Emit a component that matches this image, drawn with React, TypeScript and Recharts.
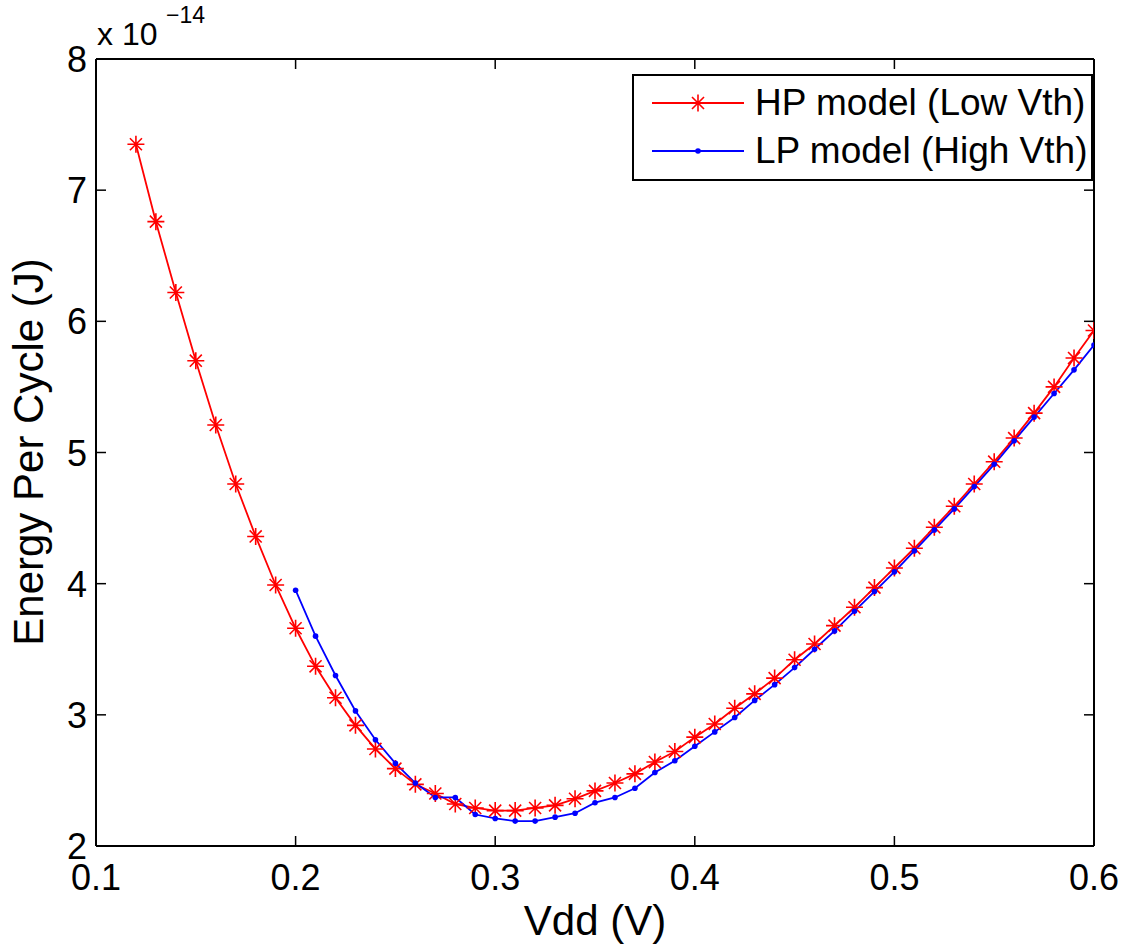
import React from "react";
import { LineChart, Line, XAxis, YAxis } from "recharts";

const hpVdd = [
  0.12, 0.13, 0.14, 0.15, 0.16, 0.17, 0.18, 0.19, 0.2, 0.21, 0.22, 0.23, 0.24, 0.25, 0.26, 0.27, 0.28,
  0.29, 0.3, 0.31, 0.32, 0.33, 0.34, 0.35, 0.36, 0.37, 0.38, 0.39, 0.4, 0.41, 0.42, 0.43, 0.44, 0.45,
  0.46, 0.47, 0.48, 0.49, 0.5, 0.51, 0.52, 0.53, 0.54, 0.55, 0.56, 0.57, 0.58, 0.59, 0.6,
];
// energy per cycle, units of 1e-14 J
const hpEnergy = [
  7.35, 6.76, 6.22, 5.7, 5.21, 4.76, 4.36, 3.99, 3.66, 3.37, 3.13, 2.92, 2.74, 2.59, 2.47, 2.4, 2.32,
  2.29, 2.27, 2.27, 2.29, 2.31, 2.36, 2.42, 2.48, 2.55, 2.64, 2.72, 2.83, 2.93, 3.05, 3.16, 3.28, 3.42,
  3.54, 3.68, 3.82, 3.97, 4.12, 4.27, 4.43, 4.59, 4.76, 4.93, 5.11, 5.3, 5.5, 5.72, 5.93,
];

const lpVdd = [
  0.2, 0.21, 0.22, 0.23, 0.24, 0.25, 0.26, 0.27, 0.28, 0.29, 0.3, 0.31, 0.32, 0.33, 0.34, 0.35, 0.36,
  0.37, 0.38, 0.39, 0.4, 0.41, 0.42, 0.43, 0.44, 0.45, 0.46, 0.47, 0.48, 0.49, 0.5, 0.51, 0.52, 0.53,
  0.54, 0.55, 0.56, 0.57, 0.58, 0.59, 0.6,
];
const lpEnergy = [
  3.95, 3.6, 3.3, 3.03, 2.81, 2.63, 2.48, 2.37, 2.37, 2.24, 2.21, 2.19, 2.19, 2.22, 2.25, 2.33, 2.37,
  2.44, 2.56, 2.65, 2.76, 2.87, 2.98, 3.11, 3.23, 3.36, 3.5, 3.64, 3.79, 3.94, 4.09, 4.25, 4.41, 4.57,
  4.74, 4.91, 5.09, 5.27, 5.45, 5.63, 5.82,
];

const xTicks = [0.1, 0.2, 0.3, 0.4, 0.5, 0.6];
const yTicks = [2, 3, 4, 5, 6, 7, 8];

const FONT = '"Liberation Sans", Arial, Helvetica, sans-serif';
const TICK_LEN = 10;
const TICK_FONT = 36;

const hpData = hpVdd.map((v, i) => ({ v, e: hpEnergy[i] }));
const lpData = lpVdd.map((v, i) => ({ v, e: lpEnergy[i] }));

function starPath(cx: number, cy: number, r: number) {
  const d = r * 0.7071;
  return `M${cx - r},${cy}L${cx + r},${cy}M${cx},${cy - r}L${cx},${cy + r}` +
    `M${cx - d},${cy - d}L${cx + d},${cy + d}M${cx - d},${cy + d}L${cx + d},${cy - d}`;
}

function renderStar(props: any) {
  const { cx, cy, index } = props;
  if (cx == null || cy == null) return <g key={`s-${index}`} />;
  return <path key={`s-${index}`} d={starPath(cx, cy, 8.5)} stroke="#ff0000" strokeWidth={1.6} fill="none" />;
}

function BottomTick(props: any) {
  const { x, y, payload } = props;
  return (
    <g>
      <path d={`M${x},${y}V${y - TICK_LEN}`} stroke="#000" strokeWidth={1.5} />
      <text x={x} y={y + 44} textAnchor="middle" fontSize={TICK_FONT} fontFamily={FONT} fill="#000">
        {Number(payload.value).toFixed(1)}
      </text>
    </g>
  );
}

function TopTick(props: any) {
  const { x, y } = props;
  return <path d={`M${x},${y}V${y + TICK_LEN}`} stroke="#000" strokeWidth={1.5} />;
}

function LeftTick(props: any) {
  const { x, y, payload } = props;
  return (
    <g>
      <path d={`M${x},${y}H${x + TICK_LEN}`} stroke="#000" strokeWidth={1.5} />
      <text x={x - 9} y={y + 13} textAnchor="end" fontSize={TICK_FONT} fontFamily={FONT} fill="#000">
        {payload.value}
      </text>
    </g>
  );
}

function RightTick(props: any) {
  const { x, y } = props;
  return <path d={`M${x},${y}H${x - TICK_LEN}`} stroke="#000" strokeWidth={1.5} />;
}

export default function App() {
  return (
    <div style={{ position: "absolute", left: 0, top: 0, width: 1128, height: 945, background: "#fff" }}>
      <LineChart width={1128} height={945} margin={{ top: 58, right: 33, bottom: 39, left: 0 }}>
        <XAxis
          xAxisId="bottom"
          type="number"
          dataKey="v"
          domain={[0.1, 0.6]}
          ticks={xTicks}
          allowDataOverflow
          height={60}
          tickSize={0}
          tickMargin={0}
          tickLine={false}
          axisLine={{ stroke: "#000", strokeWidth: 2 }}
          tick={BottomTick}
          interval={0}
        />
        <XAxis
          xAxisId="top"
          orientation="top"
          type="number"
          dataKey="v"
          domain={[0.1, 0.6]}
          ticks={xTicks}
          allowDataOverflow
          height={1}
          tickSize={0}
          tickMargin={0}
          tickLine={false}
          axisLine={{ stroke: "#000", strokeWidth: 2 }}
          tick={TopTick}
          interval={0}
        />
        <YAxis
          yAxisId="left"
          type="number"
          domain={[2, 8]}
          ticks={yTicks}
          allowDataOverflow
          width={96}
          tickSize={0}
          tickMargin={0}
          tickLine={false}
          axisLine={{ stroke: "#000", strokeWidth: 2 }}
          tick={LeftTick}
          interval={0}
        />
        <YAxis
          yAxisId="right"
          orientation="right"
          type="number"
          domain={[2, 8]}
          ticks={yTicks}
          allowDataOverflow
          width={1}
          tickSize={0}
          tickMargin={0}
          tickLine={false}
          axisLine={{ stroke: "#000", strokeWidth: 2 }}
          tick={RightTick}
          interval={0}
        />
        <Line
          xAxisId="bottom"
          yAxisId="left"
          data={hpData}
          dataKey="e"
          type="linear"
          stroke="#ff0000"
          strokeWidth={1.8}
          dot={renderStar}
          activeDot={false}
          isAnimationActive={false}
        />
        <Line
          xAxisId="top"
          yAxisId="right"
          data={lpData}
          dataKey="e"
          type="linear"
          stroke="#0000ff"
          strokeWidth={1.8}
          dot={{ r: 2.8, fill: "#0000ff", stroke: "#0000ff", strokeWidth: 0 }}
          activeDot={false}
          isAnimationActive={false}
        />
      </LineChart>

      <svg
        width={1128}
        height={945}
        style={{ position: "absolute", left: 0, top: 0, pointerEvents: "none" }}
        fontFamily={FONT}
      >
        <text x={97} y={45} fontSize={32} fill="#000">x 10</text>
        <text x={166} y={23} fontSize={23} fill="#000">−14</text>
        <text x={43} y={452} fontSize={42} fill="#000" textAnchor="middle" transform="rotate(-90 43 452)">
          Energy Per Cycle (J)
        </text>
        <text x={595} y={935} fontSize={42} fill="#000" textAnchor="middle">Vdd (V)</text>

        <rect x={633} y={75} width={459} height={105} fill="#fff" stroke="#000" strokeWidth={2} />
        <line x1={652} x2={744} y1={103} y2={103} stroke="#ff0000" strokeWidth={1.8} />
        <path d={starPath(698, 103, 8.5)} stroke="#ff0000" strokeWidth={1.6} fill="none" />
        <text x={755} y={115} fontSize={37} fill="#000">HP model (Low Vth)</text>
        <line x1={652} x2={744} y1={151} y2={151} stroke="#0000ff" strokeWidth={1.8} />
        <circle cx={698} cy={151} r={2.8} fill="#0000ff" />
        <text x={755} y={163} fontSize={37} fill="#000">LP model (High Vth)</text>
      </svg>
    </div>
  );
}
